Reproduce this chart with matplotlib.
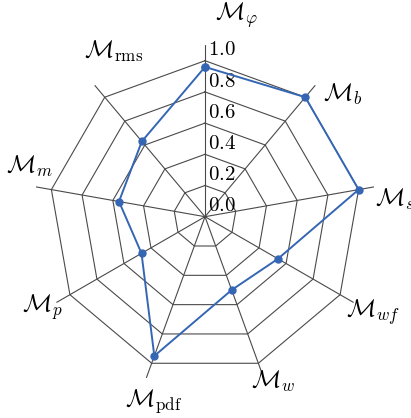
import numpy as np
import matplotlib
matplotlib.use("Agg")
import matplotlib.pyplot as plt

plt.rcParams['mathtext.fontset'] = 'cm'

labels = [r'$\mathcal{M}_\varphi$', r'$\mathcal{M}_b$', r'$\mathcal{M}_s$',
          r'$\mathcal{M}_{wf}$', r'$\mathcal{M}_w$', r'$\mathcal{M}_\mathrm{pdf}$',
          r'$\mathcal{M}_p$', r'$\mathcal{M}_m$', r'$\mathcal{M}_\mathrm{rms}$']
values = [0.96, 1.0, 1.0, 0.54, 0.50, 0.95, 0.47, 0.56, 0.63]
rings = [0.2, 0.4, 0.6, 0.8, 1.0]
tick_values = [0.0, 0.2, 0.4, 0.6, 0.8, 1.0]

# label centres as (angle in deg, radius)
label_pos = [(81.3, 1.31), (41.6, 1.18), (5.3, 1.22), (-29.6, 1.24), (-67.6, 1.14),
             (-105.4, 1.23), (-151.0, 1.19), (164.0, 1.17), (119.0, 1.21)]

n = len(labels)
# clockwise from the top
theta = np.pi / 2 - np.arange(n) * 2 * np.pi / n
theta_closed = np.append(theta, theta[0])

fig = plt.figure(figsize=(4.11, 4.18), dpi=100)
ax = fig.add_axes([0.0813, 0.0711, 0.835, 0.821], projection='polar')
ax.set_ylim(0, 1.1)
ax.grid(False)
ax.spines['polar'].set_visible(False)
ax.set_xticks([])
ax.set_yticks([])
ax.patch.set_alpha(0)

grid_color = '#4a4a4a'
for r in rings:
    ax.plot(theta_closed, np.full(n + 1, r), color=grid_color, lw=0.8, zorder=1)
for t in theta:
    ax.plot([t, t], [0, 1.1], color=grid_color, lw=0.8, zorder=1)

vals = np.append(values, values[0])
ax.plot(theta_closed, vals, color='#3566b3', lw=1.4, marker='o', markersize=5, zorder=3)

# radial tick labels next to the top spoke
for v in tick_values:
    ax.annotate(f'${v:.1f}$', xy=(np.pi / 2, v), xytext=(2, 1), textcoords='offset points',
                ha='left', va='bottom', fontsize=15, zorder=2)

for lab, (a, r) in zip(labels, label_pos):
    ax.text(np.deg2rad(a), r, lab, ha='center', va='center', fontsize=17.5)

fig.savefig('out.png', dpi=100)
